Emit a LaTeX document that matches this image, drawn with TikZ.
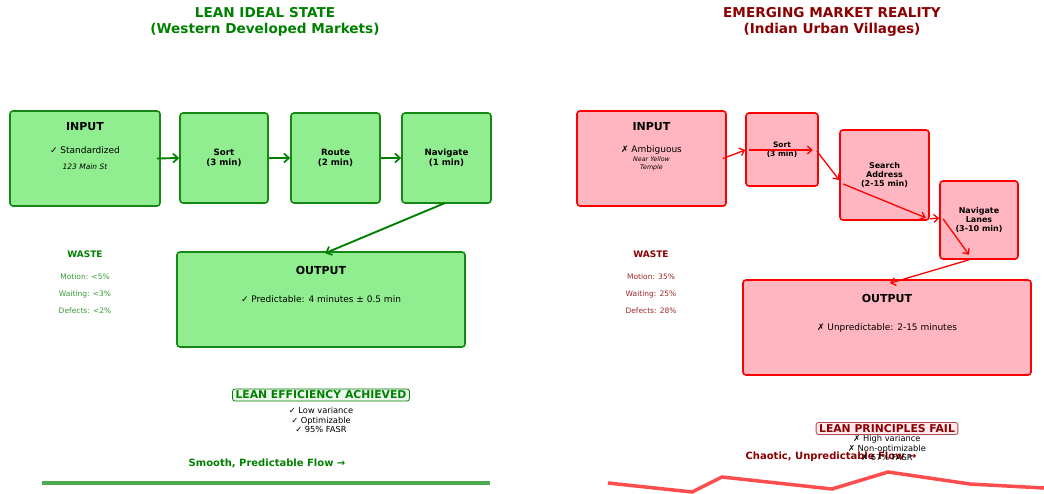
\documentclass[tikz,border=0pt]{standalone}
\usepackage{fontspec}
\setmainfont{DejaVu Sans}
\usetikzlibrary{arrows.meta,calc}
\definecolor{lgreen}{RGB}{144,238,144}
\definecolor{dgreen}{RGB}{0,128,0}
\definecolor{bgreen}{RGB}{20,135,20}
\definecolor{lpink}{RGB}{255,182,193}
\definecolor{dred}{RGB}{139,0,0}
\definecolor{pgreen}{RGB}{235,248,235}
\definecolor{ppink}{RGB}{255,232,235}
\definecolor{flowgreen}{RGB}{77,170,77}
\definecolor{flowred}{RGB}{255,77,77}
\tikzset{
  gbox/.style={draw=bgreen,fill=lgreen,line width=1.6pt,rounded corners=3pt,inner sep=0pt},
  rbox/.style={draw=red,fill=lpink,line width=1.6pt,rounded corners=3pt,inner sep=0pt},
  garr/.style={draw=dgreen,line width=1.9pt,-{Straight Barb[length=5pt,width=9pt,line width=1.7pt]}},
  rarr/.style={draw=red,line width=1.3pt,-{Straight Barb[length=4.5pt,width=8pt,line width=1.3pt]}},
  ttl/.style={font=\fontsize{13.6}{15.5}\selectfont\bfseries,align=center,inner sep=0pt},
  head/.style={font=\fontsize{11}{13}\selectfont\bfseries,inner sep=0pt},
  stp/.style={font=\fontsize{8.7}{9.8}\selectfont\bfseries,align=center,inner sep=0pt},
  stps/.style={font=\fontsize{7.5}{9}\selectfont\bfseries,align=center,inner sep=0pt},
  body/.style={font=\fontsize{9}{11}\selectfont,inner sep=0pt},
  small/.style={font=\fontsize{7.5}{9}\selectfont\itshape,inner sep=0pt},
  tiny/.style={font=\fontsize{6.3}{8}\selectfont\itshape,align=center,inner sep=0pt},
  waste/.style={font=\fontsize{9}{11}\selectfont\bfseries,inner sep=0pt},
  wl/.style={font=\fontsize{7.5}{9}\selectfont,inner sep=0pt},
  verdict/.style={font=\fontsize{10.8}{12}\selectfont\bfseries,inner xsep=3pt,inner ysep=2pt,rounded corners=2.5pt,line width=0.8pt},
  vl/.style={font=\fontsize{8.3}{9.8}\selectfont,align=center,inner sep=0pt},
  flow/.style={font=\fontsize{10}{11}\selectfont\bfseries,inner sep=0pt},
}
\begin{document}
\begin{tikzpicture}[x=1pt,y=-1pt]
\useasboundingbox (0,0) rectangle (1044,493);
% ---------- LEFT ----------
\node[ttl,text=dgreen] (lt) at (265,22) {LEAN IDEAL STATE\\(Western Developed Markets)};
\node[gbox,minimum width=150pt,minimum height=95pt] (lin) at (85,158.5) {};
\node[head] (linh) at (85,127) {INPUT};
\node[body] (lint) at (85,150) {✓ Standardized};
\node[small] (lina) at (85,167) {123 Main St};
\node[gbox,minimum width=88pt,minimum height=90pt] (lsort) at (224,158) {};
\node[stp] (lsortt) at (224,158) {Sort\\(3 min)};
\node[gbox,minimum width=89pt,minimum height=90pt] (lroute) at (335.5,158) {};
\node[stp] (lroutet) at (335.5,158) {Route\\(2 min)};
\node[gbox,minimum width=89pt,minimum height=90pt] (lnav) at (446.5,158) {};
\node[stp] (lnavt) at (446.5,158) {Navigate\\(1 min)};
\node[gbox,minimum width=288pt,minimum height=95pt] (lout) at (321,299.5) {};
\node[head] (louth) at (321,270) {OUTPUT};
\node[body] (loutt) at (321,299) {✓ Predictable: 4 minutes ± 0.5 min};
\draw[garr] ($(lin.east)+(-4,0)$) -- (lsort.west);
\draw[garr] (lsort.east) -- (lroute.west);
\draw[garr] (lroute.east) -- (lnav.west);
\draw[garr] ($(lnav.south)+(-1,-1)$) -- ($(lout.north)+(4,2)$);
\node[waste,text=dgreen] (lw) at (85,254) {WASTE};
\node[wl,text=dgreen!80] (lw1) at (85,277) {Motion: <5\%};
\node[wl,text=dgreen!80] (lw2) at (85,294) {Waiting: <3\%};
\node[wl,text=dgreen!80] (lw3) at (85,311) {Defects: <2\%};
\node[verdict,draw=dgreen,fill=pgreen,text=dgreen] (lv) at (321,395) {LEAN EFFICIENCY ACHIEVED};
\node[vl] (lvl) at (321,420) {✓ Low variance\\✓ Optimizable\\✓ 95\% FASR};
\node[flow,text=dgreen] (lflow) at (267,463) {Smooth, Predictable Flow →};
\draw[flowgreen,line width=3.5pt] (42,483) -- (490,483);
% ---------- RIGHT ----------
\node[ttl,text=dred] (rt) at (832,22) {EMERGING MARKET REALITY\\(Indian Urban Villages)};
\node[rbox,minimum width=149pt,minimum height=95pt] (rin) at (651.5,158.5) {};
\node[head] (rinh) at (651.5,127) {INPUT};
\node[body] (rint) at (651.5,150) {✗ Ambiguous};
\node[tiny] (rina) at (651.5,164) {Near Yellow\\Temple};
\node[rbox,minimum width=72pt,minimum height=73pt] (rsort) at (782,149.5) {};
\node[stps] (rsortt) at (782,149.5) {Sort\\(3 min)};
\node[rbox,minimum width=89pt,minimum height=90pt] (rsearch) at (884.5,175) {};
\node[stps,font=\fontsize{8}{9.2}\selectfont\bfseries] (rsearcht) at (884.5,175) {Search\\Address\\(2-15 min)};
\node[rbox,minimum width=78pt,minimum height=78pt] (rnav) at (979,220) {};
\node[stps,font=\fontsize{8}{9.2}\selectfont\bfseries] (rnavt) at (979,220) {Navigate\\Lanes\\(3-10 min)};
\node[rbox,minimum width=288pt,minimum height=95pt] (rout) at (887,327.5) {};
\node[head] (routh) at (887,298) {OUTPUT};
\node[body] (routt) at (887,328) {✗ Unpredictable: 2-15 minutes};
\draw[rarr] ($(rin.east)+(-4,0)$) -- ($(rsort.west)+(0,0.5)$);
\draw[rarr] ($(rsort.west)+(4,0.5)$) -- ($(rsort.east)+(-6,0.5)$);
\draw[rarr] ($(rsort.east)+(-2,1.5)$) -- ($(rsearch.west)+(0,5)$);
\draw[rarr] ($(rsearch.west)+(4,9)$) -- ($(rsearch.south east)+(-4,-3)$);
\draw[rarr] ($(rsearch.south east)+(0,-2)$) -- ($(rnav.west)+(0,-2)$);
\draw[rarr] ($(rnav.west)+(4,-1)$) -- ($(rnav.south)+(-10,-5)$);
\draw[rarr] ($(rnav.south)+(-10,0)$) -- ($(rout.north)+(3,4)$);
\node[waste,text=dred] (rw) at (651,254) {WASTE};
\node[wl,text=dred!85] (rw1) at (651,277) {Motion: 35\%};
\node[wl,text=dred!85] (rw2) at (651,294) {Waiting: 25\%};
\node[wl,text=dred!85] (rw3) at (651,311) {Defects: 28\%};
\node[verdict,draw=dred!70,fill=ppink,text=dred] (rv) at (887,428.5) {LEAN PRINCIPLES FAIL};
\node[flow,text=dred] (rflow) at (831,457) {Chaotic, Unpredictable Flow →};
\node[vl] (rvl) at (887,448) {✗ High variance\\✗ Non-optimizable\\✗ 67\% FASR};
\draw[flowred,line width=3.5pt,line join=miter] (608,483) -- (692,492) -- (722,477) -- (832,489) -- (888,472) -- (970,484) -- (1044,488);
\end{tikzpicture}
\end{document}
